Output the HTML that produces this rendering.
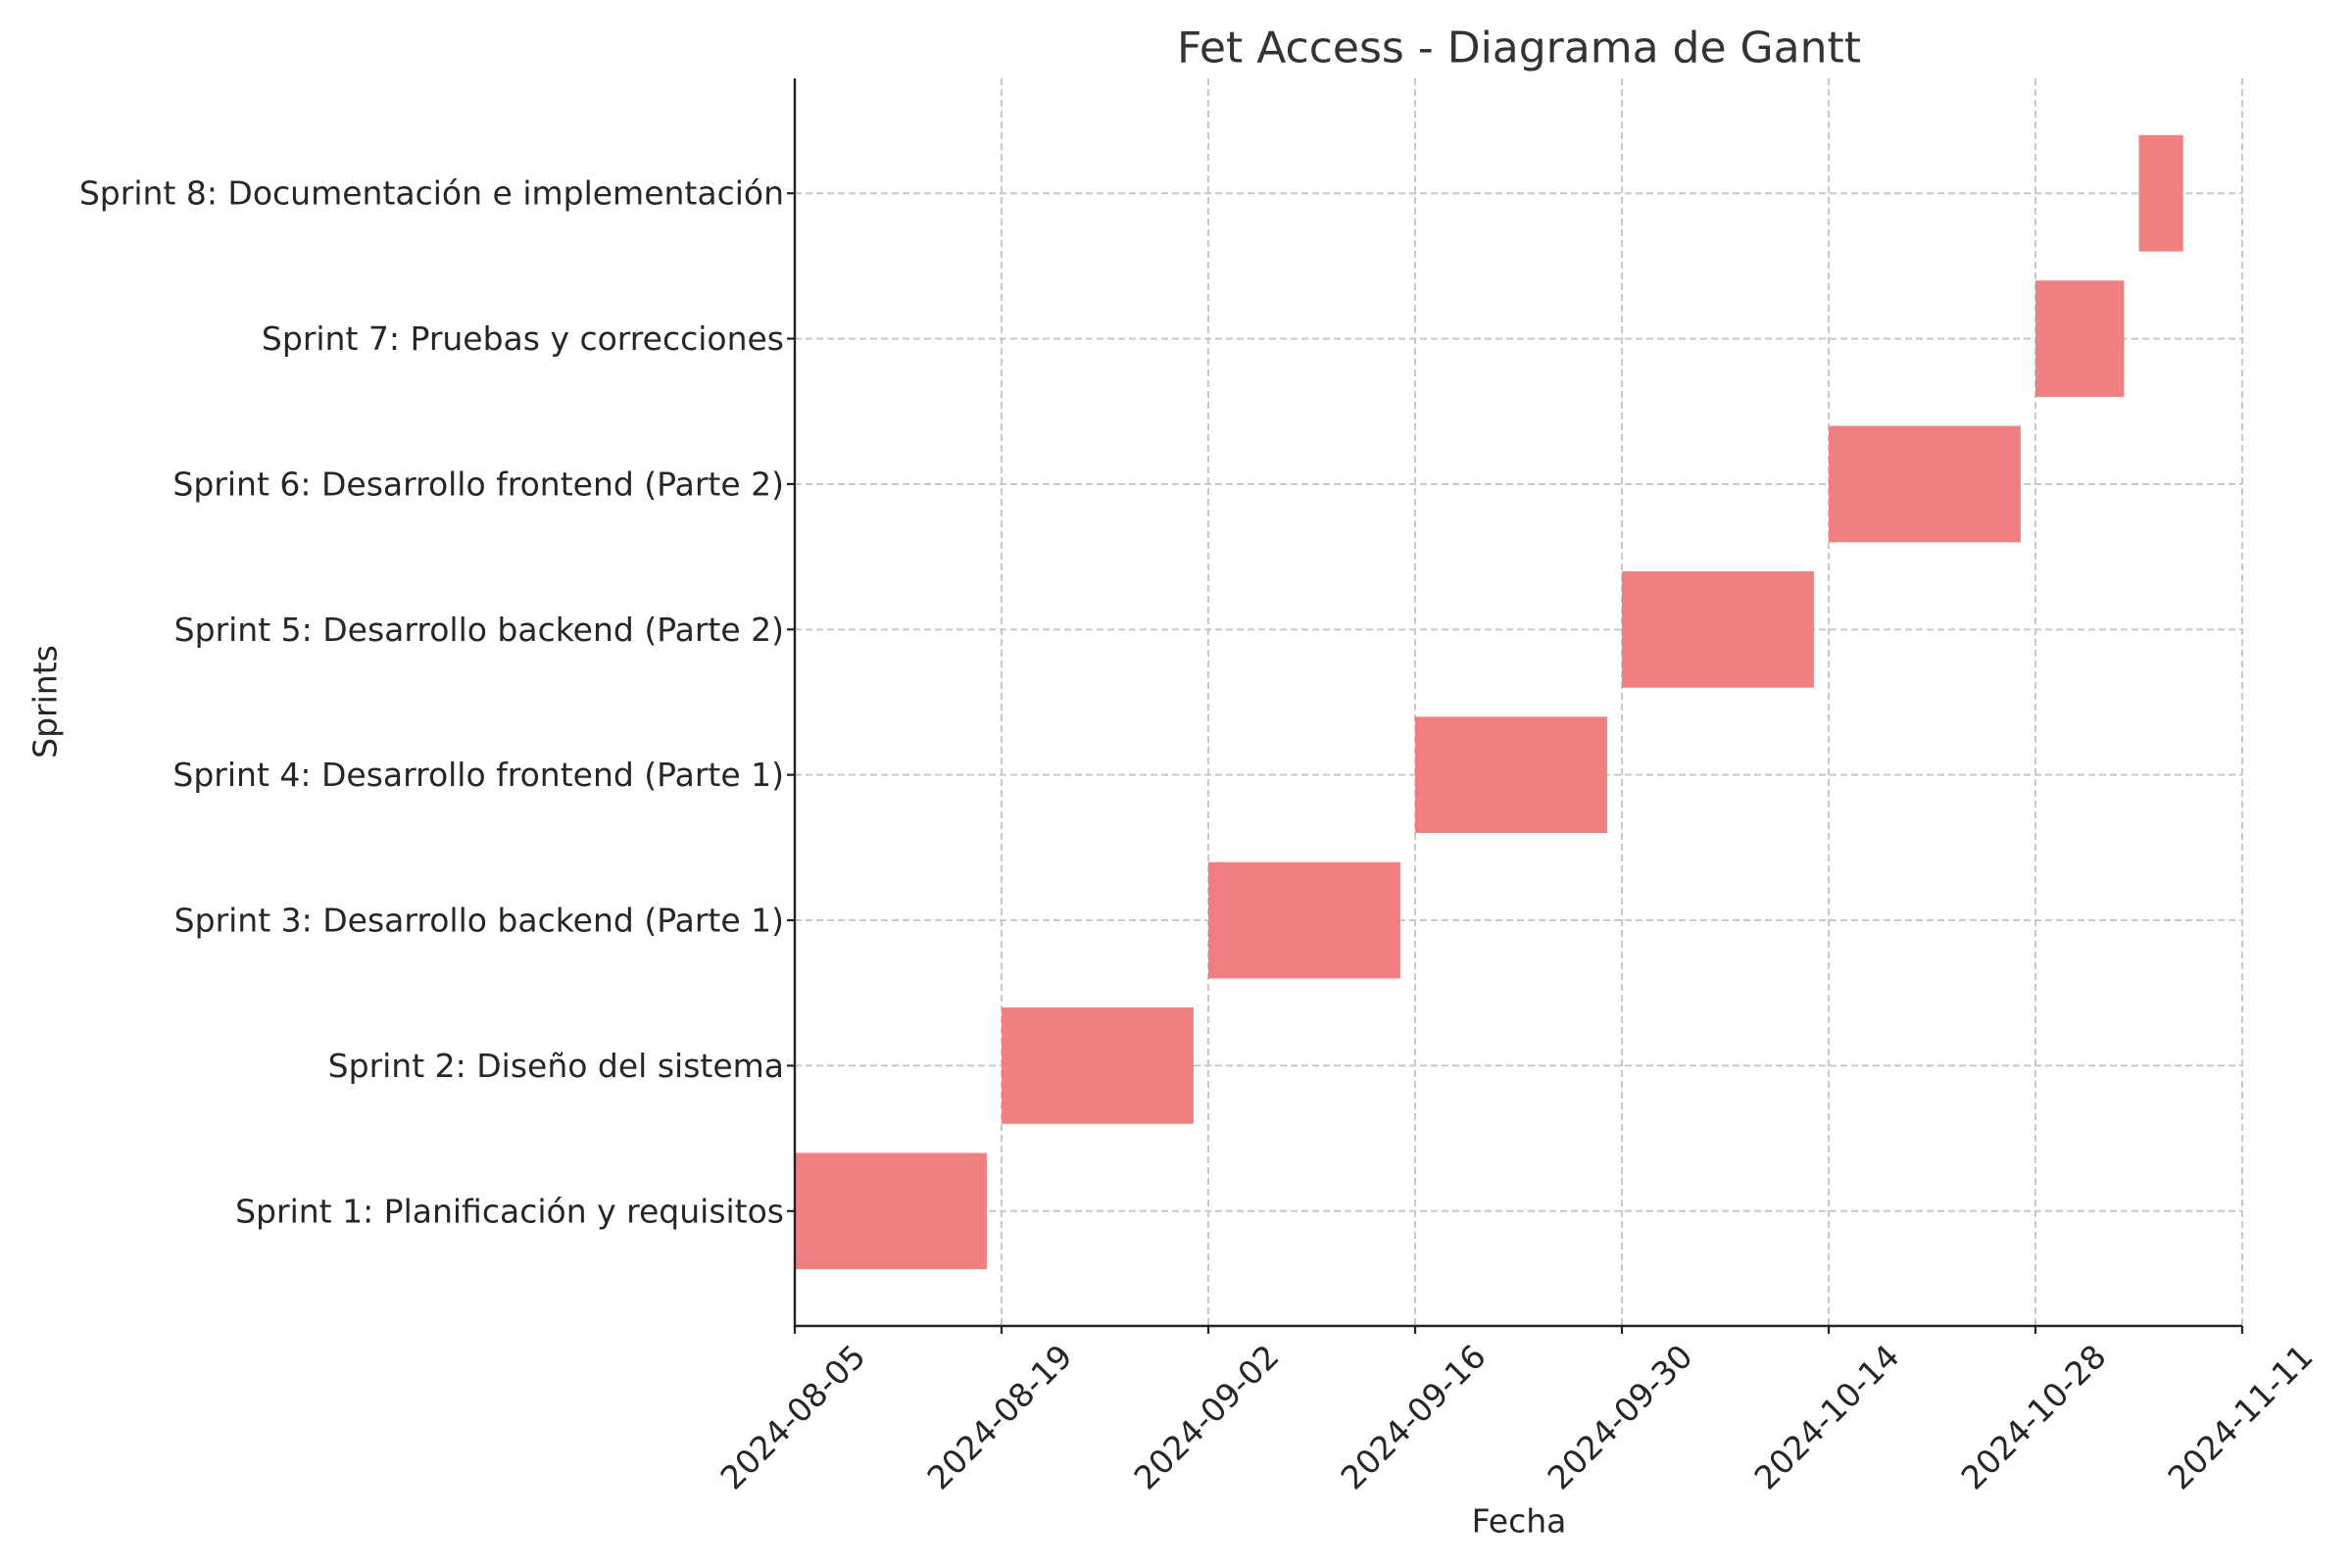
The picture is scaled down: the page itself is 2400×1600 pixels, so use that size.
<!DOCTYPE html>
<html><head><meta charset="utf-8"><style>
html,body{margin:0;padding:0;background:#fff;}
svg{display:block;font-family:"DejaVu Sans","Liberation Sans",sans-serif;}
</style></head><body>
<svg id="chart" width="2400" height="1600" viewBox="0 0 2400 1600" xmlns="http://www.w3.org/2000/svg">
<rect width="2400" height="1600" fill="#fff"/>
<text x="1550" y="49" font-size="44" fill="#333" text-anchor="middle" dominant-baseline="central">Fet Access - Diagrama de Gantt</text>
<g id="grid"></g>
<g id="bars"></g>
<g id="axes"></g>
<text x="1550" y="1552" font-size="33" fill="#262626" text-anchor="middle" dominant-baseline="central">Fecha</text>
<text x="46" y="716" font-size="33" fill="#262626" text-anchor="middle" dominant-baseline="central" transform="rotate(-90 46 716)">Sprints</text>
</svg>
<script>
const sprints = ["Sprint 1: Planificación y requisitos","Sprint 2: Diseño del sistema","Sprint 3: Desarrollo backend (Parte 1)","Sprint 4: Desarrollo frontend (Parte 1)","Sprint 5: Desarrollo backend (Parte 2)","Sprint 6: Desarrollo frontend (Parte 2)","Sprint 7: Pruebas y correcciones","Sprint 8: Documentación e implementación"];
const startDates = ["2024-08-05","2024-08-19","2024-09-02","2024-09-16","2024-09-30","2024-10-14","2024-10-28","2024-11-04"];
const durations = [13,13,13,13,13,13,6,3];
const xTicks = ["2024-08-05","2024-08-19","2024-09-02","2024-09-16","2024-09-30","2024-10-14","2024-10-28","2024-11-11"];

const NS="http://www.w3.org/2000/svg";
const L=811,R=2288,T=80,B=1353;
const d0=Date.parse("2024-08-05T00:00:00Z"), d1=Date.parse("2024-11-11T00:00:00Z");
const day=86400000;
function xs(dateStr){return L+(Date.parse(dateStr+"T00:00:00Z")-d0)/(d1-d0)*(R-L);}
function xdays(n){return n*day/(d1-d0)*(R-L);}
const yMin=-0.79,yMax=7.79;
function ys(v){return B-(v-yMin)/(yMax-yMin)*(B-T);}
function mk(tag,attrs,parent){const e=document.createElementNS(NS,tag);for(const k in attrs)e.setAttribute(k,attrs[k]);parent.appendChild(e);return e;}
const grid=document.getElementById('grid'),bars=document.getElementById('bars'),axes=document.getElementById('axes');

xTicks.forEach((t,i)=>{
  const x=xs(t);
  const g=mk('line',{x1:x,x2:x,y1:T,y2:B,stroke:'#c8c8c8','stroke-width':2,'stroke-dasharray':'7,4'},grid);
  
  
  const tk=mk('line',{x1:x,x2:x,y1:B,y2:B+8,stroke:'#222','stroke-width':2.2},axes);
  
  
  const tx=mk('text',{x:x-2,y:1446,'font-size':33,fill:'#262626','text-anchor':'middle','dominant-baseline':'central',transform:`rotate(-45 ${x-2} 1446)`},axes);
  tx.textContent=t;
  
  
});
sprints.forEach((s,i)=>{
  const y=ys(i);
  const g=mk('line',{x1:L,x2:R,y1:y,y2:y,stroke:'#c8c8c8','stroke-width':2,'stroke-dasharray':'7,4'},grid);
  
  
  const tk=mk('line',{x1:L-8,x2:L,y1:y,y2:y,stroke:'#222','stroke-width':2.2},axes);
  
  
  const tx=mk('text',{x:800,y:y,'font-size':33,fill:'#262626','text-anchor':'end','dominant-baseline':'central'},axes);
  tx.textContent=s;
  
  
  const x=xs(startDates[i]);
  const b=mk('rect',{x:x,y:ys(i+0.4),width:xdays(durations[i]),height:ys(i-0.4)-ys(i+0.4),fill:'#f08080'},bars);
  
  
});
const yl=mk('line',{x1:L,x2:L,y1:T,y2:B+1,stroke:'#222','stroke-width':2.4},axes);


const xl=mk('line',{x1:L-1,x2:R,y1:B,y2:B,stroke:'#222','stroke-width':2.4},axes);


</script>
</body></html>
